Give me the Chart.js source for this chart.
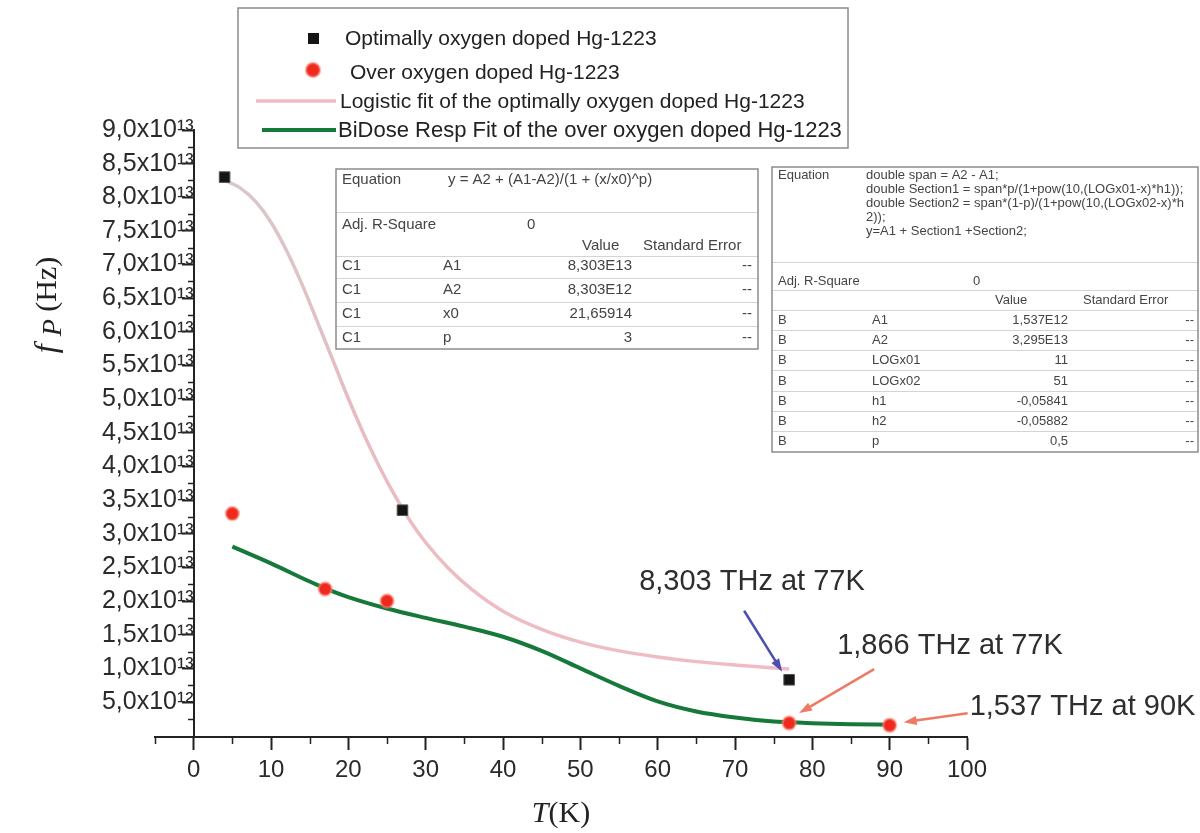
<!DOCTYPE html>
<html>
<head>
<meta charset="utf-8">
<script src="https://cdn.jsdelivr.net/npm/chart.js@4.4.1/dist/chart.umd.min.js"></script>
<style>
  body { margin: 0; background: #fff; }
  #wrap { width: 1200px; height: 833px; }
</style>
</head>
<body>
<div id="wrap"><canvas id="plasmaChart" width="1200" height="833"></canvas></div>
<script>
// values (T in K, fp in Hz)
const optT = [4, 27, 77];
const optF = [8.30e13, 3.35e13, 8.303e12];
const overT = [5, 17, 25, 77, 90];
const overF = [3.30e13, 2.18e13, 2.00e13, 1.866e12, 1.537e12];

// fitted curves
const logisticT = [4, 6, 8, 10, 12, 14, 16, 18, 20, 22, 24, 26, 28, 30, 33, 36, 40, 45, 50, 55, 60, 65, 70, 77];
const logisticF = [8.25e13, 8.14e13, 7.94e13, 7.63e13, 7.21e13, 6.71e13, 6.15e13, 5.58e13, 5.01e13, 4.48e13, 4.00e13, 3.57e13,
                   3.19e13, 2.87e13, 2.48e13, 2.17e13, 1.85e13, 1.58e13, 1.39e13, 1.26e13, 1.17e13, 1.10e13, 1.05e13, 9.9e12];
const bidoseT = [5, 10, 15, 17, 20, 25, 30, 35, 40, 45, 50, 55, 60, 65, 70, 75, 77, 80, 85, 90];
const bidoseF = [2.81e13, 2.56e13, 2.29e13, 2.19e13, 2.06e13, 1.89e13, 1.75e13, 1.62e13, 1.47e13, 1.26e13, 1.00e13, 7.4e12,
                 5.1e12, 3.6e12, 2.7e12, 2.1e12, 2.0e12, 1.84e12, 1.69e12, 1.62e12];

const seriesNames = [
    'Optimally oxygen doped Hg-1223',
    'Over oxygen doped Hg-1223',
    'Logistic fit of the optimally oxygen doped Hg-1223',
    'BiDose Resp Fit of the over oxygen doped Hg-1223'
];

// axis ticks
const xTicks = [0, 10, 20, 30, 40, 50, 60, 70, 80, 90, 100];
const xMinor = [-5, 5, 15, 25, 35, 45, 55, 65, 75, 85, 95];
const yTicks = [5.0e12, 1.0e13, 1.5e13, 2.0e13, 2.5e13, 3.0e13, 3.5e13, 4.0e13, 4.5e13,
                5.0e13, 5.5e13, 6.0e13, 6.5e13, 7.0e13, 7.5e13, 8.0e13, 8.5e13, 9.0e13];
const yTickLabels = ['5,0x10¹²', '1,0x10¹³', '1,5x10¹³', '2,0x10¹³', '2,5x10¹³', '3,0x10¹³', '3,5x10¹³', '4,0x10¹³', '4,5x10¹³',
                     '5,0x10¹³', '5,5x10¹³', '6,0x10¹³', '6,5x10¹³', '7,0x10¹³', '7,5x10¹³', '8,0x10¹³', '8,5x10¹³', '9,0x10¹³'];
const yMinor = [2.5e12, 7.5e12, 1.25e13, 1.75e13, 2.25e13, 2.75e13, 3.25e13, 3.75e13, 4.25e13,
                4.75e13, 5.25e13, 5.75e13, 6.25e13, 6.75e13, 7.25e13, 7.75e13, 8.25e13, 8.75e13];

// fit result tables
const logisticEq = ['y = A2 + (A1-A2)/(1 + (x/x0)^p)'];
const logisticRows = [
    ['C1', 'A1', '8,303E13', '--'],
    ['C1', 'A2', '8,303E12', '--'],
    ['C1', 'x0', '21,65914', '--'],
    ['C1', 'p', '3', '--']
];
const bidoseEq = [
    'double span = A2 - A1;',
    'double Section1 = span*p/(1+pow(10,(LOGx01-x)*h1));',
    'double Section2 = span*(1-p)/(1+pow(10,(LOGx02-x)*h',
    '2));',
    'y=A1 + Section1 +Section2;'
];
const bidoseRows = [
    ['B', 'A1', '1,537E12', '--'],
    ['B', 'A2', '3,295E13', '--'],
    ['B', 'LOGx01', '11', '--'],
    ['B', 'LOGx02', '51', '--'],
    ['B', 'h1', '-0,05841', '--'],
    ['B', 'h2', '-0,05882', '--'],
    ['B', 'p', '0,5', '--']
];

const noteTexts = ['8,303 THz at 77K', '1,866 THz at 77K', '1,537 THz at 90K'];

const SANS = '"Liberation Sans", Arial, sans-serif';
const SERIF = '"Liberation Serif", "Times New Roman", serif';

function toXY(xs, ys) {
    return xs.map((x, i) => ({ x: x, y: ys[i] }));
}

function line(ctx, x1, y1, x2, y2) {
    ctx.beginPath();
    ctx.moveTo(x1, y1);
    ctx.lineTo(x2, y2);
    ctx.stroke();
}

function arrow(ctx, x1, y1, x2, y2, color) {
    const a = Math.atan2(y2 - y1, x2 - x1);
    const hl = 13, hw = 4.5;
    ctx.strokeStyle = color;
    ctx.fillStyle = color;
    ctx.lineWidth = 2.5;
    line(ctx, x1, y1, x2 - Math.cos(a) * hl * 0.8, y2 - Math.sin(a) * hl * 0.8);
    ctx.beginPath();
    ctx.moveTo(x2, y2);
    ctx.lineTo(x2 - Math.cos(a) * hl - Math.sin(a) * hw, y2 - Math.sin(a) * hl + Math.cos(a) * hw);
    ctx.lineTo(x2 - Math.cos(a) * hl + Math.sin(a) * hw, y2 - Math.sin(a) * hl - Math.cos(a) * hw);
    ctx.closePath();
    ctx.fill();
}

// pale grey at the top of the logistic curve, turning pink lower down
function logisticColor(context) {
    const chart = context.chart;
    if (!chart.chartArea) return 'rgba(228,160,170,0.7)';
    const g = chart.ctx.createLinearGradient(0, chart.chartArea.top, 0, chart.chartArea.bottom);
    g.addColorStop(0, 'rgba(200,185,188,0.75)');
    g.addColorStop(0.45, 'rgba(222,165,172,0.75)');
    g.addColorStop(1, 'rgba(238,160,172,0.7)');
    return g;
}

// draws one Origin-style parameter table
function drawTable(ctx, t) {
    ctx.fillStyle = '#fff';
    ctx.fillRect(t.left, t.top, t.right - t.left, t.bottom - t.top);
    ctx.strokeStyle = '#d4d4d4';
    ctx.lineWidth = 1;
    t.lines.forEach(y => line(ctx, t.left, y + 0.5, t.right, y + 0.5));
    ctx.strokeStyle = '#8c8c8c';
    ctx.lineWidth = 1.5;
    ctx.strokeRect(t.left, t.top, t.right - t.left, t.bottom - t.top);

    ctx.fillStyle = '#444';
    ctx.font = t.size + 'px ' + SANS;
    ctx.textBaseline = 'middle';
    ctx.textAlign = 'left';
    ctx.fillText('Equation', t.col1, t.eqY[0]);
    t.eq.forEach((s, i) => ctx.fillText(s, t.eqX, t.eqY[i], t.right - t.eqX - 3));
    ctx.fillText('Adj. R-Square', t.col1, t.adjY);
    ctx.fillText('0', t.zeroX, t.adjY);
    ctx.fillText('Value', t.valueX, t.headY);
    ctx.fillText('Standard Error', t.errX, t.headY);
    t.rows.forEach((r, i) => {
        const y = t.rowY[i];
        ctx.textAlign = 'left';
        ctx.fillText(r[0], t.col1, y);
        ctx.fillText(r[1], t.col2, y);
        ctx.textAlign = 'right';
        ctx.fillText(r[2], t.col3, y);
        ctx.fillText(r[3], t.col4, y);
    });
}

const decorations = {
    id: 'decorations',
    afterDraw(chart) {
        const ctx = chart.ctx;
        const xs = chart.scales.x, ys = chart.scales.y;
        const area = chart.chartArea;
        const ds = chart.data.datasets;
        ctx.save();

        // minor ticks
        ctx.strokeStyle = '#222';
        ctx.lineWidth = 1.5;
        xMinor.forEach(v => {
            const px = Math.round(xs.getPixelForValue(v)) + 0.5;
            line(ctx, px, area.bottom, px, area.bottom + 7);
        });
        const axisX = Math.round(xs.getPixelForValue(0));
        yMinor.forEach(v => {
            const py = Math.round(ys.getPixelForValue(v)) + 0.5;
            line(ctx, axisX - 6, py, axisX, py);
        });

        // axis titles
        ctx.fillStyle = '#222';
        ctx.textBaseline = 'alphabetic';
        ctx.textAlign = 'left';
        const cx = (area.left + area.right) / 2;
        ctx.font = 'italic 30px ' + SERIF;
        const wT = ctx.measureText('T').width;
        ctx.font = '30px ' + SERIF;
        const wK = ctx.measureText('(K)').width;
        let x0 = cx - (wT + wK) / 2;
        ctx.font = 'italic 30px ' + SERIF;
        ctx.fillText('T', x0, 822);
        ctx.font = '30px ' + SERIF;
        ctx.fillText('(K)', x0 + wT, 822);

        ctx.save();
        ctx.translate(56, 305);
        ctx.rotate(-Math.PI / 2);
        ctx.font = 'italic 32px ' + SERIF;
        const wf = ctx.measureText('f ').width;
        ctx.font = 'italic 28px ' + SERIF;
        const wp = ctx.measureText('P').width;
        ctx.font = '30px ' + SERIF;
        const wh = ctx.measureText(' (Hz)').width;
        let tx = -(wf + wp + wh) / 2;
        ctx.font = 'italic 32px ' + SERIF;
        ctx.fillText('f', tx, 0);
        ctx.font = 'italic 28px ' + SERIF;
        ctx.fillText('P', tx + wf, 5);
        ctx.font = '30px ' + SERIF;
        ctx.fillText(' (Hz)', tx + wf + wp, 0);
        ctx.restore();

        // fit tables
        drawTable(ctx, {
            left: 336, top: 169, right: 758, bottom: 349, size: 15,
            lines: [212, 256, 278, 302, 326],
            col1: 342, eqX: 448, eqY: [180], eq: logisticEq,
            adjY: 225, zeroX: 527, headY: 246, valueX: 582, errX: 643,
            rowY: [266, 290, 314, 338], rows: logisticRows,
            col2: 443, col3: 632, col4: 752
        });
        drawTable(ctx, {
            left: 772, top: 167, right: 1198, bottom: 452, size: 13,
            lines: [262, 290, 310, 330, 350, 370, 391, 411, 431],
            col1: 778, eqX: 866, eqY: [175, 189, 203, 217, 231], eq: bidoseEq,
            adjY: 281, zeroX: 973, headY: 300, valueX: 995, errX: 1083,
            rowY: [320, 340, 360, 381, 401, 421, 441], rows: bidoseRows,
            col2: 872, col3: 1068, col4: 1194
        });

        // legend
        ctx.fillStyle = '#fff';
        ctx.fillRect(238, 8, 610, 140);
        ctx.strokeStyle = '#8c8c8c';
        ctx.lineWidth = 1.5;
        ctx.strokeRect(238, 8, 610, 140);
        ctx.fillStyle = ds[0].backgroundColor;
        ctx.fillRect(308, 33, 11, 11);
        ctx.beginPath();
        ctx.arc(313, 70, 7, 0, Math.PI * 2);
        ctx.fillStyle = ds[1].backgroundColor;
        ctx.fill();
        ctx.strokeStyle = ds[1].borderColor;
        ctx.lineWidth = 2.5;
        ctx.stroke();
        ctx.strokeStyle = 'rgba(236,170,180,0.8)';
        ctx.lineWidth = 3.5;
        line(ctx, 256, 101, 336, 101);
        ctx.strokeStyle = ds[3].borderColor;
        ctx.lineWidth = 4;
        line(ctx, 262, 130, 336, 130);
        ctx.fillStyle = '#222';
        ctx.textBaseline = 'middle';
        ctx.textAlign = 'left';
        ctx.font = '21px ' + SANS;
        ctx.fillText(seriesNames[0], 345, 39);
        ctx.fillText(seriesNames[1], 350, 73);
        ctx.fillText(seriesNames[2], 340, 102);
        ctx.font = '22px ' + SANS;
        ctx.fillText(seriesNames[3], 338, 131, 505);

        // notes pointing at the 77 K and 90 K values
        const p1x = xs.getPixelForValue(optT[2]), p1y = ys.getPixelForValue(optF[2]);
        const p2x = xs.getPixelForValue(overT[3]), p2y = ys.getPixelForValue(overF[3]);
        const p3x = xs.getPixelForValue(overT[4]), p3y = ys.getPixelForValue(overF[4]);
        arrow(ctx, p1x - 45, p1y - 69, p1x - 7, p1y - 8, '#4a4fb0');
        arrow(ctx, p2x + 85, p2y - 54, p2x + 10, p2y - 10, '#ee7a66');
        arrow(ctx, p3x + 78, p3y - 12, p3x + 14, p3y - 3, '#ee7a66');
        ctx.fillStyle = '#2e2e2e';
        ctx.font = '29px ' + SANS;
        ctx.fillText(noteTexts[0], p1x - 150, p1y - 98);
        ctx.fillText(noteTexts[1], p2x + 48, p2y - 77);
        ctx.fillText(noteTexts[2], p3x + 80, p3y - 18, 1198 - (p3x + 80));

        ctx.restore();
    }
};

new Chart(document.getElementById('plasmaChart'), {
    type: 'scatter',
    data: {
        datasets: [
            {
                label: seriesNames[0],
                data: toXY(optT, optF),
                pointStyle: 'rect',
                pointRadius: 7.5,
                backgroundColor: '#151515',
                borderColor: '#555',
                borderWidth: 1
            },
            {
                label: seriesNames[1],
                data: toXY(overT, overF),
                pointStyle: 'circle',
                pointRadius: 6.5,
                backgroundColor: '#ee2a1e',
                borderColor: 'rgba(255,130,110,0.55)',
                borderWidth: 2.5
            },
            {
                label: seriesNames[2],
                type: 'line',
                data: toXY(logisticT, logisticF),
                borderColor: logisticColor,
                borderWidth: 3.5,
                pointRadius: 0,
                cubicInterpolationMode: 'monotone',
                fill: false
            },
            {
                label: seriesNames[3],
                type: 'line',
                data: toXY(bidoseT, bidoseF),
                borderColor: '#16793a',
                borderWidth: 4,
                pointRadius: 0,
                cubicInterpolationMode: 'monotone',
                fill: false
            }
        ]
    },
    options: {
        responsive: false,
        animation: false,
        devicePixelRatio: 1,
        layout: { padding: { left: 155, right: 233, top: 130, bottom: 0 } },
        plugins: {
            legend: { display: false },
            tooltip: { enabled: false }
        },
        scales: {
            x: {
                type: 'linear',
                min: -5,
                max: 100,
                afterBuildTicks: function(scale) {
                    scale.ticks = xTicks.map(v => ({ value: v }));
                },
                afterFit: function(scale) {
                    scale.height = 96;
                },
                grid: { drawOnChartArea: false, tickLength: 13, tickWidth: 2, tickColor: '#222' },
                border: { color: '#222', width: 2 },
                ticks: {
                    autoSkip: false,
                    maxRotation: 0,
                    padding: 6,
                    color: '#2a2a2a',
                    font: { family: SANS, size: 24 },
                    callback: function(value) {
                        return String(value);
                    }
                }
            },
            y: {
                type: 'linear',
                min: -2e11,
                max: 9e13,
                position: { x: 0 },
                afterBuildTicks: function(scale) {
                    scale.ticks = yTicks.map(v => ({ value: v }));
                },
                grid: { drawOnChartArea: false, tickLength: 11, tickWidth: 2, tickColor: '#222' },
                border: { color: '#222', width: 2 },
                ticks: {
                    autoSkip: false,
                    padding: 2,
                    color: '#2a2a2a',
                    font: { family: SANS, size: 25 },
                    callback: function(value) {
                        const i = yTicks.indexOf(value);
                        return i >= 0 ? yTickLabels[i] : '';
                    }
                }
            }
        }
    },
    plugins: [decorations]
});
</script>
</body>
</html>
